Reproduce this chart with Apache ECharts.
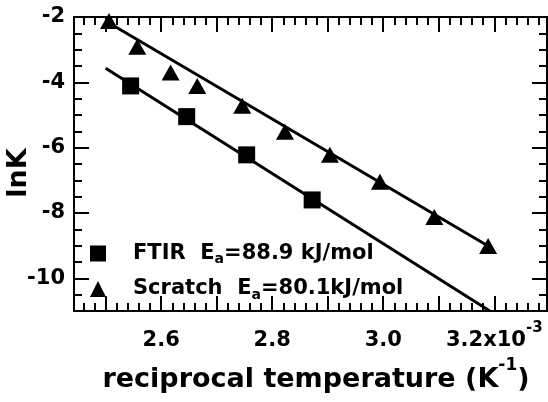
<!DOCTYPE html>
<html>
<head>
<meta charset="utf-8">
<script src="https://cdn.jsdelivr.net/npm/echarts@6/dist/echarts.min.js"></script>
<style>html,body{margin:0;padding:0;background:#fff;}#c{width:548px;height:402px;}</style>
</head>
<body>
<div id="c"></div>
<script>
// ---- data (x in 10^-3 K^-1, y = lnK) ----
const ftirX = [2.545, 2.646, 2.754, 2.872];
const ftirY = [-4.11, -5.05, -6.22, -7.60];
const scratchX = [2.506, 2.557, 2.617, 2.665, 2.746, 2.823, 2.904, 2.994, 3.092, 3.189];
const scratchY = [-2.12, -2.91, -3.70, -4.11, -4.72, -5.51, -6.22, -7.04, -8.12, -9.01];
// fitted lines (endpoints)
const ftirFitX = [2.500, 3.192];
const ftirFitY = [-3.57, -11.0];
const scratchFitX = [2.500, 3.189];
const scratchFitY = [-2.12, -9.01];
// axes
const xMin = 2.443, xMax = 3.295;
const yMin = -11, yMax = -2;
const xLabelValues = [2.6, 2.8, 3.0, 3.2];
const xMajorTicks = [2.5, 2.6, 2.7, 2.8, 2.9, 3.0, 3.1, 3.2];
const yLabelValues = [-10, -8, -6, -4, -2];
const legendNames = ['FTIR', 'Scratch'];
const legendEa = ['88.9 kJ/mol', '80.1kJ/mol'];

const xMinorTicks = [];
for (let v = 2.46; v <= 3.29; v += 0.02) xMinorTicks.push(+v.toFixed(2));
const yMinorTicks = [];
for (let v = -10.5; v <= -2.5; v += 0.5) yMinorTicks.push(v);

const FONT = '"DejaVu Sans", Verdana, sans-serif';
const pairs = (xs, ys) => xs.map((x, i) => [x, ys[i]]);

function xAx(pos, ticks, len, labels) {
  return {
    type: 'value', position: pos, min: xMin, max: xMax,
    axisLine: { show: true, onZero: false, lineStyle: { color: '#000', width: 2 } },
    axisTick: { show: true, inside: true, length: len, customValues: ticks, lineStyle: { color: '#000', width: 2 } },
    axisLabel: labels ? {
      show: true, customValues: xLabelValues, margin: 10, color: '#000',
      fontFamily: FONT, fontWeight: 'bold', fontSize: 21,
      formatter: v => (Math.abs(v - 3.2) < 1e-6 ? '{m|3.2x10}{s|-3}' : '{m|' + v.toFixed(1) + '}'),
      rich: {
        m: { fontFamily: FONT, fontWeight: 'bold', fontSize: 21, lineHeight: 40, color: '#000' },
        s: { fontFamily: FONT, fontWeight: 'bold', fontSize: 15, lineHeight: 14, color: '#000', padding: [0, 0, 26, 0] }
      }
    } : { show: false },
    splitLine: { show: false }
  };
}
function yAx(pos, ticks, len, labels) {
  return {
    type: 'value', position: pos, min: yMin, max: yMax,
    axisLine: { show: true, onZero: false, lineStyle: { color: '#000', width: 2 } },
    axisTick: { show: true, inside: true, length: len, customValues: ticks, lineStyle: { color: '#000', width: 2 } },
    axisLabel: labels ? {
      show: true, customValues: yLabelValues, margin: 9, color: '#000',
      fontFamily: FONT, fontWeight: 'bold', fontSize: 21
    } : { show: false },
    splitLine: { show: false }
  };
}

const xAxes = [
  xAx('bottom', xMajorTicks, 15, true),
  xAx('bottom', xMinorTicks, 8, false),
  xAx('top', xMajorTicks, 15, false),
  xAx('top', xMinorTicks, 8, false)
];
xAxes[0].name = '{m|reciprocal temperature (K}{s|-1}{m|)}';
xAxes[0].nameLocation = 'middle';
xAxes[0].nameGap = 47;
xAxes[0].nameMoveOverlap = false;
xAxes[0].nameTextStyle = {
  padding: [0, 0, 0, 11],
  rich: {
    m: { fontFamily: FONT, fontWeight: 'bold', fontSize: 27, lineHeight: 44, color: '#000' },
    s: { fontFamily: FONT, fontWeight: 'bold', fontSize: 17, lineHeight: 16, color: '#000', padding: [0, 0, 28, 0] }
  }
};
const yAxes = [
  yAx('left', yLabelValues, 15, true),
  yAx('left', yMinorTicks, 8, false),
  yAx('right', yLabelValues, 15, false),
  yAx('right', yMinorTicks, 8, false)
];
yAxes[0].name = 'lnK';
yAxes[0].nameLocation = 'middle';
yAxes[0].nameRotate = 90;
yAxes[0].nameGap = 42;
yAxes[0].nameMoveOverlap = false;
yAxes[0].nameTextStyle = { fontFamily: FONT, fontWeight: 'bold', fontSize: 27, color: '#000', padding: [0, 18, 0, 0] };

const chart = echarts.init(document.getElementById('c'), null, { renderer: 'canvas' });
chart.setOption({
  animation: false,
  backgroundColor: '#fff',
  grid: { left: 74, top: 17, width: 473, height: 294, containLabel: false, outerBoundsMode: 'none' },
  xAxis: xAxes,
  yAxis: yAxes,
  legend: {
    orient: 'vertical', left: 85, top: 238, itemGap: 12,
    itemWidth: 16, itemHeight: 16,
    data: [{ name: legendNames[0], icon: 'rect' }, { name: legendNames[1], icon: 'triangle' }],
    itemStyle: { opacity: 1 },
    formatter: name => {
      const i = legendNames.indexOf(name);
      return '{m|' + name + '  E}{sub|a}{m|=' + legendEa[i] + '}';
    },
    textStyle: {
      padding: [0, 0, 0, 22],
      rich: {
        m: { fontFamily: FONT, fontWeight: 'bold', fontSize: 21, color: '#000' },
        sub: { fontFamily: FONT, fontWeight: 'bold', fontSize: 14, color: '#000', padding: [12, 0, 0, 0] }
      }
    }
  },
  series: [
    { name: 'FTIR fit', type: 'line', data: pairs(ftirFitX, ftirFitY), showSymbol: false, symbol: 'none', clip: true,
      lineStyle: { color: '#000', width: 3 }, z: 2 },
    { name: 'Scratch fit', type: 'line', data: pairs(scratchFitX, scratchFitY), showSymbol: false, symbol: 'none', clip: true,
      lineStyle: { color: '#000', width: 3 }, z: 2 },
    { name: legendNames[0], type: 'scatter', data: pairs(ftirX, ftirY), symbol: 'rect', symbolSize: 17,
      itemStyle: { color: '#000', opacity: 1 }, z: 3 },
    { name: legendNames[1], type: 'scatter', data: pairs(scratchX, scratchY), symbol: 'triangle', symbolSize: [18, 16],
      itemStyle: { color: '#000', opacity: 1 }, z: 3 }
  ]
});
</script>
</body>
</html>
